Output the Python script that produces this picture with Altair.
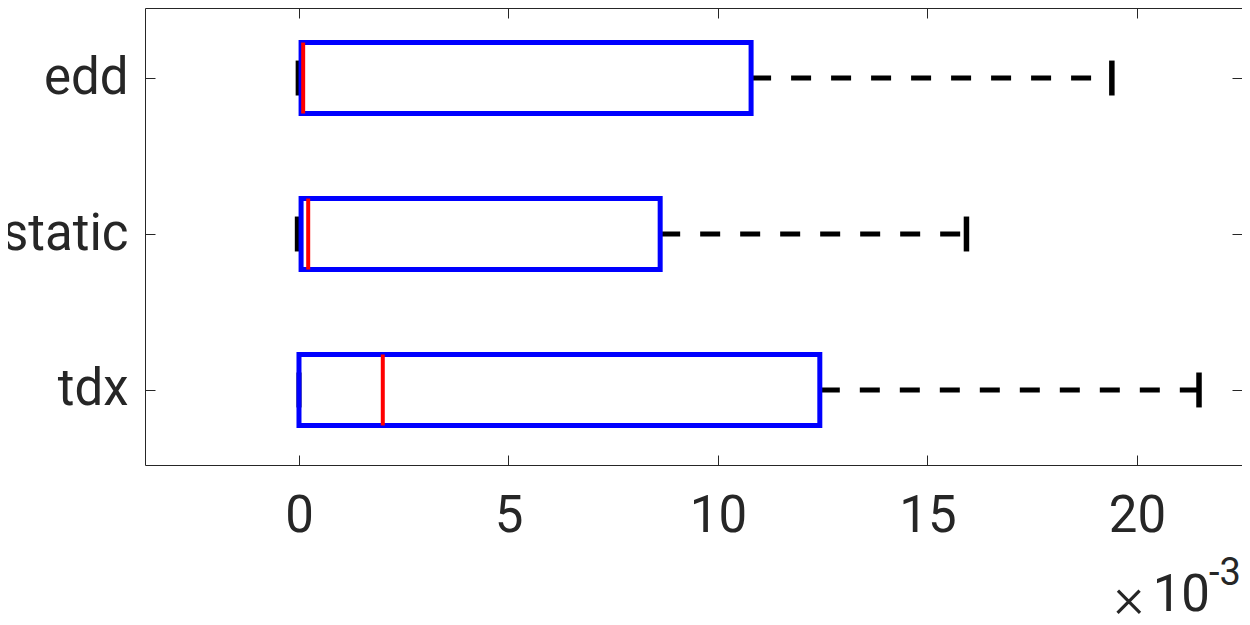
import altair as alt
import pandas as pd

categories = ["tdx", "static", "edd"]
positions = [1, 2, 3]
lower_whisker = [0.0, -0.04, -0.02]
q1 = [0.0, 0.05, 0.05]
median = [2.0, 0.22, 0.10]
q3 = [12.43, 8.62, 10.79]
upper_whisker = [21.48, 15.93, 19.40]
x_ticks = [0, 5, 10, 15, 20]

df = pd.DataFrame({
    "cat": categories, "pos": positions, "lo": lower_whisker, "q1": q1,
    "med": median, "q3": q3, "hi": upper_whisker,
})

FONT = "Roboto"
DARK = "#262626"
BOX_HALF = 0.2275
CAP_HALF = 0.112

xs = alt.Scale(domain=[-3.675, 22.506], nice=False, zero=False)
ys = alt.Scale(domain=[0.519, 3.449], nice=False, zero=False)

base = alt.Chart(df).transform_calculate(
    b_lo=f"datum.pos - {BOX_HALF}", b_hi=f"datum.pos + {BOX_HALF}",
    c_lo=f"datum.pos - {CAP_HALF}", c_hi=f"datum.pos + {CAP_HALF}",
)

label_expr = "datum.value == 1 ? 'tdx' : datum.value == 2 ? 'static' : 'edd'"

x_axis_bottom = alt.Axis(values=x_ticks, domain=False, offset=-10, tickSize=10,
                         tickColor=DARK, tickWidth=1, labelFont=FONT, labelFontSize=51,
                         labelColor=DARK, labelPadding=26, grid=False, title=None,
                         labelFlush=False, labelOverlap=False)
y_axis_left = alt.Axis(values=positions, labelExpr=label_expr, domain=False, offset=-10,
                       tickSize=10, tickColor=DARK, tickWidth=1, labelFont=FONT,
                       labelFontSize=51, labelColor=DARK, labelPadding=17, grid=False,
                       title=None, labelBaseline="middle", labelFlush=False, labelOverlap=False)
x_axis_top = alt.Axis(values=x_ticks, orient="top", domain=False, offset=-10, tickSize=10,
                      tickColor=DARK, tickWidth=1, labels=False, grid=False, title=None)
y_axis_right = alt.Axis(values=positions, orient="right", domain=False, offset=-10,
                        tickSize=10, tickColor=DARK, tickWidth=1, labels=False, grid=False,
                        title=None)

whisk_hi = base.mark_rule(color="black", strokeWidth=5, strokeDash=[20, 20]).encode(
    x=alt.X("q3:Q", scale=xs, axis=x_axis_bottom), x2="hi:Q",
    y=alt.Y("pos:Q", scale=ys, axis=y_axis_left),
)
whisk_lo = base.mark_rule(color="black", strokeWidth=5, strokeDash=[20, 20]).encode(
    x=alt.X("lo:Q", scale=xs, axis=x_axis_top), x2="q1:Q",
    y=alt.Y("pos:Q", scale=ys, axis=y_axis_right),
)
cap_hi = base.mark_rule(color="black", strokeWidth=5.5).encode(
    x=alt.X("hi:Q", scale=xs, axis=None),
    y=alt.Y("c_lo:Q", scale=ys, axis=None), y2="c_hi:Q",
)
cap_lo = base.mark_rule(color="black", strokeWidth=5).encode(
    x=alt.X("lo:Q", scale=xs, axis=None),
    y=alt.Y("c_lo:Q", scale=ys, axis=None), y2="c_hi:Q",
)
box = base.mark_rect(fill="white", fillOpacity=0, stroke="#0000ff", strokeWidth=5).encode(
    x=alt.X("q1:Q", scale=xs, axis=None), x2="q3:Q",
    y=alt.Y("b_lo:Q", scale=ys, axis=None), y2="b_hi:Q",
)
med = base.mark_rule(color="#ff0000", strokeWidth=4).encode(
    x=alt.X("med:Q", scale=xs, axis=None),
    y=alt.Y("b_lo:Q", scale=ys, axis=None), y2="b_hi:Q",
)

note = pd.DataFrame({"a": [0]})
times = alt.Chart(note).mark_text(text="×", font=FONT, fontSize=58, fontWeight=300,
                                  color=DARK, align="center", baseline="alphabetic").encode(
    x=alt.value(984), y=alt.value(609))
ten = alt.Chart(note).mark_text(text="10", font=FONT, fontSize=51, color=DARK,
                                align="right", baseline="alphabetic").encode(
    x=alt.value(1065), y=alt.value(603))
exp3 = alt.Chart(note).mark_text(text="-3", font=FONT, fontSize=38, color=DARK,
                                 align="left", baseline="alphabetic").encode(
    x=alt.value(1064), y=alt.value(577))

chart = alt.layer(whisk_hi, whisk_lo, cap_hi, cap_lo, box, med, times, ten, exp3).resolve_scale(
    x="independent", y="independent"
).properties(
    width=1097, height=457,
    autosize=alt.AutoSizeParams(type="none"),
    padding={"left": 137, "top": 0, "right": 0, "bottom": 152},
).configure_view(stroke=DARK, strokeWidth=1)

chart.save("out.html", embed_options={"renderer": "svg", "actions": False})
